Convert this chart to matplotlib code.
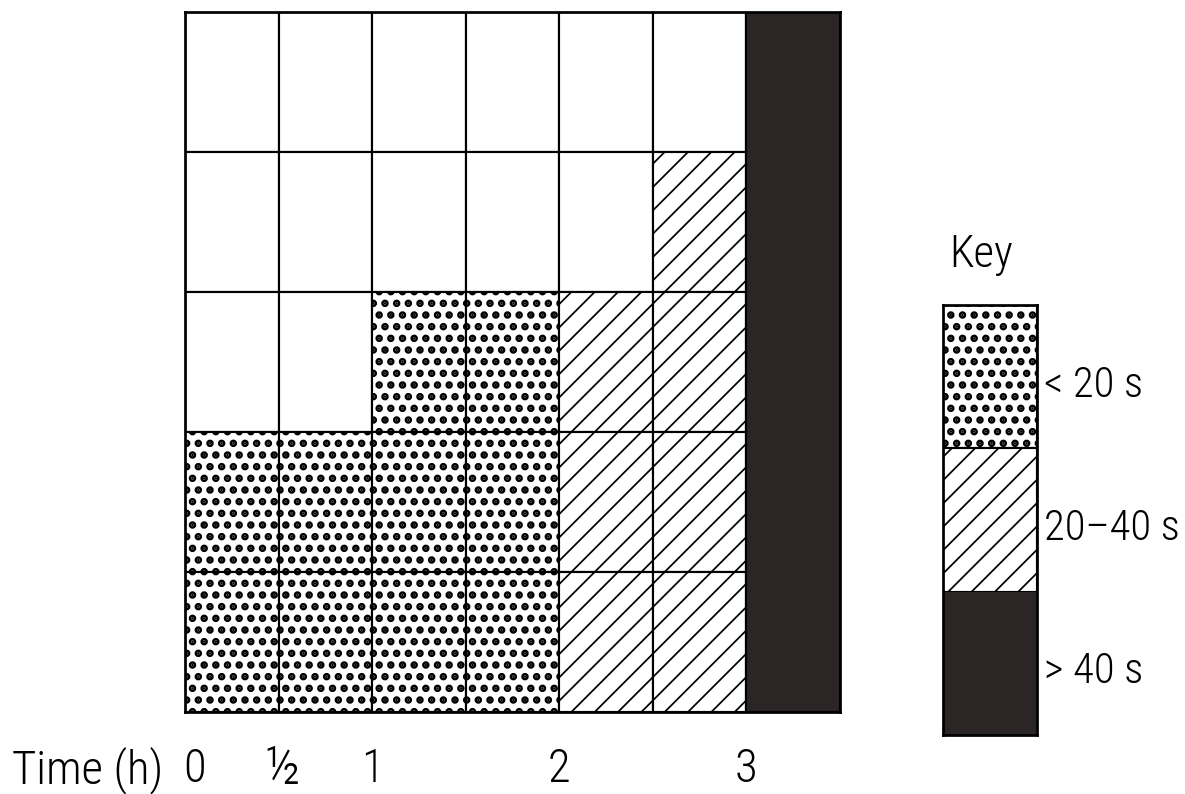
import matplotlib.pyplot as plt
from matplotlib import font_manager
from matplotlib.transforms import ScaledTranslation

DPI = 140
W, H = 1185, 794

# tick positions are column boundaries (one column = half an hour)
times = [0, 0.5, 1, 2, 3]
tick_labels = ['0', '½', '1', '2', '3']
# rows listed top to bottom: 0 = blank, 1 = < 20 s, 2 = 20-40 s, 3 = > 40 s
cells = [
    [0, 0, 0, 0, 0, 0, 3],
    [0, 0, 0, 0, 0, 2, 3],
    [0, 0, 1, 1, 2, 2, 3],
    [1, 1, 1, 1, 2, 2, 3],
    [1, 1, 1, 1, 2, 2, 3],
]
key_cats = [1, 2, 3]
key_labels = ['< 20 s', '20–40 s', '> 40 s']

DARK = '#2b2526'
styles = {
    0: dict(facecolor='white', hatch=None, hlw=1.0),
    1: dict(facecolor='white', hatch='..', hlw=2.6),
    2: dict(facecolor='white', hatch='//', hlw=0.9),
    3: dict(facecolor=DARK, hatch=None, hlw=1.0),
}

# pick the narrowest family we can find
installed = {f.name for f in font_manager.fontManager.ttflist}
wanted = ['Liberation Sans Narrow', 'Roboto Condensed', 'Open Sans Condensed',
          'DejaVu Sans Condensed', 'DejaVu Sans']
fams = [f for f in wanted if f in installed] or ['DejaVu Sans']
plt.rcParams['font.family'] = fams + ['DejaVu Sans']
plt.rcParams['font.weight'] = 'light'
plt.rcParams['hatch.color'] = 'black'


def add_cell(ax, x, bottom, cat):
    st = styles[cat]
    plt.rcParams['hatch.linewidth'] = st['hlw']
    ec = DARK if cat == 3 else 'black'
    lw = 0 if cat == 3 else 1.1
    bars = ax.bar(x, 1, bottom=bottom, width=1, align='edge',
                  facecolor=st['facecolor'], edgecolor=ec, linewidth=lw,
                  hatch=st['hatch'])
    for b in bars:
        if hasattr(b, 'set_hatch_linewidth'):
            b.set_hatch_linewidth(st['hlw'])


fig = plt.figure(figsize=(W / DPI, H / DPI), dpi=DPI)

def px_axes(l, t, r, b):
    return fig.add_axes([l / W, 1 - b / H, (r - l) / W, (b - t) / H])

ax = px_axes(185, 12, 840, 712)
n_rows = len(cells)
n_cols = len(cells[0])
for i, row in enumerate(cells):
    for j, cat in enumerate(row):
        add_cell(ax, j, n_rows - 1 - i, cat)
# outline of dark column
ax.bar(n_cols - 1, n_rows, width=1, align='edge', fill=False,
       edgecolor='black', linewidth=1.1)
ax.set_xlim(0, n_cols)
ax.set_ylim(0, n_rows)
for s in ax.spines.values():
    s.set_linewidth(1.4)
ax.set_xticks([t * 2 for t in times])
ax.set_xticklabels(tick_labels, fontsize=24)
ax.tick_params(axis='x', length=0, pad=18)
ax.set_yticks([])
labels = ax.get_xticklabels()
labels[0].set_transform(labels[0].get_transform() + ScaledTranslation(10 / DPI, 0, fig.dpi_scale_trans))
labels[1].set_fontsize(28)
labels[1].set_transform(labels[1].get_transform() + ScaledTranslation(4 / DPI, 4 / DPI, fig.dpi_scale_trans))
fig.text(12 / W, 1 - 770 / H, 'Time (h)', fontsize=24, va='center', ha='left')

# key
kax = px_axes(943, 305, 1037, 735)
for k, cat in enumerate(key_cats):
    add_cell(kax, 0, len(key_cats) - 1 - k, cat)
    kax.text(1.07, len(key_cats) - 0.56 - k, key_labels[k], fontsize=22,
             va='center', ha='left', transform=kax.transData, clip_on=False)
kax.set_xlim(0, 1)
kax.set_ylim(0, len(key_cats))
kax.set_xticks([])
kax.set_yticks([])
for s in kax.spines.values():
    s.set_linewidth(1.4)
fig.text(949 / W, 1 - 255 / H, 'Key', fontsize=23, va='center', ha='left')

fig.savefig('out.png', dpi=DPI, facecolor='white')
